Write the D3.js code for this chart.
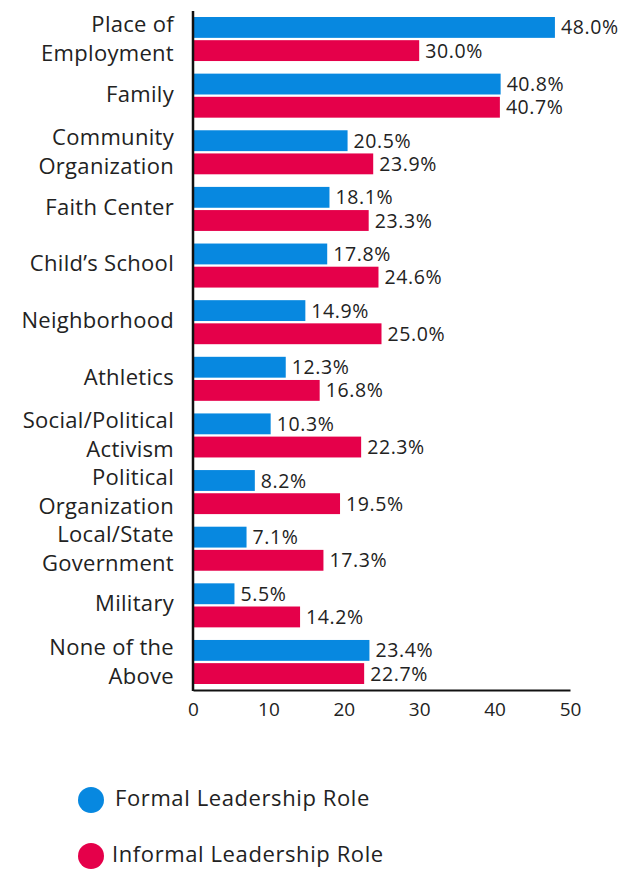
<!DOCTYPE html>
<html>
<head>
<meta charset="utf-8">
<script src="https://cdn.jsdelivr.net/npm/d3@7"></script>
<style>
  html, body { margin: 0; padding: 0; background: #fff; }
  svg { display: block; font-family: "Open Sans", "Lato", sans-serif; }
</style>
</head>
<body>
<svg id="chart" width="625" height="869"></svg>
<script>
// Where people hold leadership roles (% of respondents)
const categories = [
  "Place of Employment", "Family", "Community Organization", "Faith Center",
  "Child\u2019s School", "Neighborhood", "Athletics", "Social/Political Activism",
  "Political Organization", "Local/State Government", "Military", "None of the Above"
];
// Category labels split into the lines drawn on the axis
const categoryLines = [
  ["Place of", "Employment"], ["Family"], ["Community", "Organization"], ["Faith Center"],
  ["Child\u2019s School"], ["Neighborhood"], ["Athletics"], ["Social/Political", "Activism"],
  ["Political", "Organization"], ["Local/State", "Government"], ["Military"], ["None of the", "Above"]
];
const seriesNames = ["Formal Leadership Role", "Informal Leadership Role"];
const formal   = [48.0, 40.8, 20.5, 18.1, 17.8, 14.9, 12.3, 10.3, 8.2, 7.1, 5.5, 23.4];
const informal = [30.0, 40.7, 23.9, 23.3, 24.6, 25.0, 16.8, 22.3, 19.5, 17.3, 14.2, 22.7];
const xTicks = [0, 10, 20, 30, 40, 50];
const colors = ["#0788e0", "#e5004a"];
const ink = "#222";

const svg = d3.select("#chart");
const plotLeft = 193, plotRight = 570, plotTop = 11, plotBottom = 690;

const x = d3.scaleLinear().domain([0, 50]).range([plotLeft, plotRight]);
const y = d3.scaleBand().domain(categories).range([plotTop, plotBottom])
  .paddingInner(0.2226).paddingOuter(0.106);
const ySeries = d3.scaleBand().domain(seriesNames).range([0, y.bandwidth()]).paddingInner(0.1);

const rows = categories.map((c, i) => ({
  cat: c, lines: categoryLines[i],
  vals: [formal[i], informal[i]]
}));

const groups = svg.append("g").selectAll("g.row").data(rows).join("g")
  .attr("class", "row")
  .attr("transform", d => `translate(0,${y(d.cat)})`);

groups.selectAll("rect").data(d => d.vals.map((v, k) => ({ v, k })))
  .join("rect")
  .attr("x", x(0))
  .attr("y", d => ySeries(seriesNames[d.k]))
  .attr("width", d => x(d.v) - x(0))
  .attr("height", ySeries.bandwidth())
  .attr("fill", d => colors[d.k]);

groups.selectAll("text.val").data(d => d.vals.map((v, k) => ({ v, k })))
  .join("text")
  .attr("class", "val")
  .attr("x", d => x(d.v) + 6)
  .attr("y", d => ySeries(seriesNames[d.k]) + ySeries.bandwidth() / 2)
  .attr("dy", "0.36em")
  .attr("font-size", 19.5)
  .attr("letter-spacing", 0.6)
  .attr("fill", ink)
  .text(d => d.v.toFixed(1) + "%");

// Category labels
groups.append("text")
  .attr("text-anchor", "end")
  .attr("font-size", 22)
  .attr("letter-spacing", 0.3)
  .attr("fill", ink)
  .selectAll("tspan").data(d => d.lines.map((t, i) => ({ t, i, n: d.lines.length })))
  .join("tspan")
  .attr("x", 174)
  .attr("y", d => y.bandwidth() / 2 + (d.n === 1 ? -2 : (d.i === 0 ? -15 : 14)))
  .attr("dy", "0.36em")
  .text(d => d.t);

// Axes
const xAxis = d3.axisBottom(x).tickValues(xTicks).tickSize(0).tickPadding(13);
const ax = svg.append("g").attr("transform", `translate(0,${plotBottom})`).call(xAxis);
ax.select(".domain").attr("stroke", "#111").attr("stroke-width", 2);
ax.selectAll("text").attr("font-size", 19).attr("fill", ink)
  .style("font-family", "'Open Sans', Lato, sans-serif");

svg.append("line")
  .attr("x1", plotLeft).attr("x2", plotLeft).attr("y1", plotTop).attr("y2", plotBottom + 1)
  .attr("stroke", "#111").attr("stroke-width", 2.5);

// Legend
const legend = svg.append("g").selectAll("g").data(seriesNames).join("g")
  .attr("transform", (d, i) => `translate(91,${800 + i * 56})`);
legend.append("circle").attr("r", 13).attr("fill", (d, i) => colors[i]);
legend.append("text")
  .attr("x", (d, i) => i === 0 ? 24 : 21)
  .attr("y", -1)
  .attr("dy", "0.3em")
  .attr("font-size", 22)
  .attr("letter-spacing", 0.6)
  .attr("fill", ink)
  .text(d => d);
</script>
</body>
</html>
